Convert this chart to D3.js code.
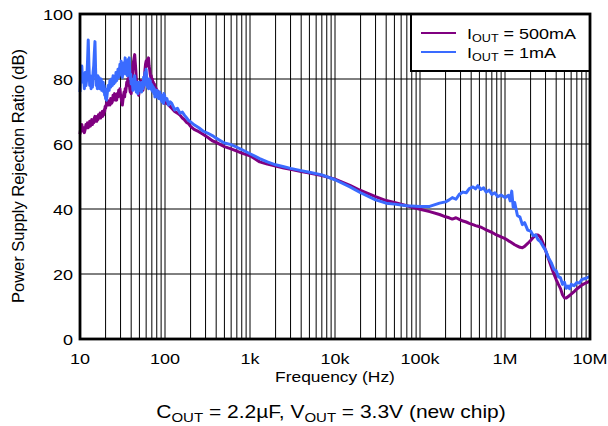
<!DOCTYPE html>
<head>
  <meta charset="utf-8">
  <script src="https://d3js.org/d3.v7.min.js"></script>
  <style type="text/css">
    body { margin: 0; background: #fff; }
    * { font-family: "Liberation Sans", Arial, sans-serif; }
  </style>
</head>
<body>
<div id="my_dataviz"></div>
<script>

// frequency points (Hz), shared by both curves
var freq = [
  10,10.25,10.5,10.75,11,11.25,11.5,11.75,12,12.25,12.5,12.75,13,13.25,13.5,13.75,14,14.25,14.5,14.75,
  15,15.25,15.5,15.75,16,16.25,16.5,16.75,17,17.25,17.5,17.75,18,18.25,18.5,18.75,19,19.25,19.5,19.75,20,
  20.5,21,21.5,22,22.5,23,23.5,24,24.5,25,25.5,26,26.5,27,27.5,28,28.5,29,29.5,30,
  30.5,31,31.5,32,32.5,33,33.5,34,34.5,35,35.5,36,36.5,37,37.5,38,38.5,39,39.5,40,
  41,42,43,44,45,46,47,48,49,50,51,52,53,54,55,56,57,58,59,60,
  61,62,63,64,65,66,67,68,69,70,71,72,73,74,75,76,77,78,79,80,
  81,82,83,84,85,86,87,88,89,90,91,92,93,94,95,96,97,98,99,100,
  105,110,115,120,
  130,140,150,160,170,180,190,200,
  220,250,280,320,360,400,450,500,
  600,700,800,1000,
  1300,1600,2000,2500,3000,4000,5000,7000,
  1e4,1.5e4,2e4,3e4,4e4,5e4,7e4,1e5,
  1.3e5,1.7e5,
  2e5,2.2e5,2.4e5,2.65e5,2.9e5,3.2e5,3.5e5,3.8e5,4.2e5,4.5e5,4.8e5,5.2e5,5.6e5,6e5,6.5e5,7e5,7.6e5,8.2e5,9e5,
  1e6,1.1e6,1.15e6,1.2e6,1.25e6,1.3e6,1.4e6,1.5e6,1.6e6,1.7e6,1.85e6,2e6,2.15e6,2.3e6,2.45e6,2.6e6,2.8e6,
  3e6,3.25e6,3.5e6,3.75e6,4e6,4.25e6,4.5e6,4.75e6,5e6,5.25e6,5.5e6,5.75e6,6e6,6.5e6,7e6,7.5e6,8e6,9e6,1e7];

// PSRR (dB), IOUT = 500mA
var psrr500mA = [
  63,65.5,66,64,65,63.5,64.5,66,65,66.5,65,66,67,65.5,66.5,67.5,66,67.5,66.5,68,
  68.5,67,68,67,68.5,67.5,69,68,68.5,69.5,68,69,68.5,70,68.5,69.5,69,70.5,70,71.5,71,
  72.5,73.5,72,73,72,74,72.5,73,75,74,75.5,73.5,74.5,73.5,75.5,74.5,76.5,75.5,77,75,
  74,73,72,73.5,75,76,74.5,77,76,77.5,79,78,80,78.5,80.5,79,77,76,77.5,75.5,
  79,84.5,86,87.5,84,80,78.5,76,75,76.5,78,79.5,77.5,78.5,76.5,78,80,82.5,84.5,85.5,
  84,86,85,86.5,84,83,81.5,80.5,81,79,80,78.5,79,77.5,78.5,77,77.5,76.5,77,75.5,
  76.5,75,75.5,74.5,76,75,75.5,74,75,74,74.5,73.5,74.5,73,74,73,73.5,72.5,73.5,73,
  72.5,72,71.5,71,
  70,69.5,68.9,68,67.4,66.6,66.2,65.4,
  64.5,63.8,63,62,61,60.5,59.8,59.2,
  58.5,57.8,57.2,56.4,
  54.5,53.8,53.2,52.6,52.2,51.5,51.1,50.3,
  49.2,47.3,45.7,43.8,42.6,42,41,39.9,
  39.2,38.3,
  37.6,37.3,36.9,37.3,36.8,36.3,36,35.6,35.2,34.9,34.7,34.4,34,33.6,33.2,32.8,32.3,31.9,31.4,
  30.9,30.2,29.9,29.6,29.3,29,28.6,28.2,28.1,28.5,29.4,30.3,31.3,32,32,31.4,29.5,
  27.2,24.7,22.2,20.1,18.3,16.8,15.5,13.6,12.7,12.6,13,13.4,13.8,14.6,15.4,16,16.6,17.3,17.8];

// PSRR (dB), IOUT = 1mA
var psrr1mA = [
  76,83,84,79,81,77,82,78,80,85,92,84,78,81,77,80,77.5,82,84,88,
  91.5,83,78,80,77,81,78.5,80.5,77,79.5,78,80,76.5,78.5,77,79,76,78,75,77,74,
  73.5,76,78,76.5,79.5,77.5,80,78,81,78.5,80.5,79,82,79.5,81,83,80.5,82,84.5,81.5,
  85.5,82,80.5,83,81.5,85,82.5,86.5,83,81.5,84,81,84.5,86,82,86.5,82,80,81.5,78.5,
  80,76.5,78.5,81,78,76,79,75.5,78,79,76.5,78,76,79,77,80.5,78,82,79,83,
  80,77.5,79.5,77,80,78,79.5,77,78.5,76.5,78,76,77.5,75.5,77,74.5,76.5,75,76,74.5,
  76.5,75,76,74,75.5,74.5,76,74,75,73.5,75,73,74.5,73,74,72.5,75.5,74,75,73.5,
  74,72,73,72.5,
  70.5,71,69.5,69.8,68.8,68,67.2,66.8,
  65.9,65,64,63.3,62.6,61.8,61,60.3,
  59.8,59,58.3,57,
  55.5,54.5,53.6,53,52.5,51.8,51.3,50.5,
  49,46.8,45,42.8,41.8,41.5,41,40.8,
  40.8,41.8,
  42.2,42.8,43.5,43,44.5,45.2,45,46.3,46.8,46.2,47.2,46,46.5,45.2,45.8,44.5,45,43.8,44.3,
  43.5,44.2,42.5,45.5,40.5,42,38,37.5,35.2,35.8,33.5,33.2,31.8,32,30.5,30,28.5,
  27.3,25,23.5,21.5,21,19.2,18.8,16.8,17.5,15.6,16.3,15.5,16.8,16.4,17.4,17.2,18.3,18.7,19.3];

// ticks
var xTickVals = [10, 100, 1e3, 1e4, 1e5, 1e6, 1e7];
var xTickLabels = ["10", "100", "1k", "10k", "100k", "1M", "10M"];
var yTickVals = [0, 20, 40, 60, 80, 100];

var seriesNames = ["500mA", "1mA"];
var seriesColors = ["#800080", "#3a6bff"];

var W = 608, H = 426;
var margin = {top: 14, right: 18, bottom: 87, left: 80},
    width = W - margin.left - margin.right,
    height = H - margin.top - margin.bottom;

var svg = d3.select("#my_dataviz")
  .append("svg")
    .attr("width", W)
    .attr("height", H);

var x = d3.scaleLog()
  .domain([10, 1e7])
  .range([margin.left, margin.left + width]);

var y = d3.scaleLinear()
  .domain([0, 100])
  .range([margin.top + height, margin.top]);

// grid
var grid = svg.append("g");
grid.selectAll("vline")
  .data(x.ticks())
  .enter()
  .append("line")
    .attr("x1", function(d) { return x(d); })
    .attr("x2", function(d) { return x(d); })
    .attr("y1", y(0))
    .attr("y2", y(100))
    .attr("stroke", "#000")
    .attr("stroke-width", 1);
grid.selectAll("hline")
  .data(yTickVals)
  .enter()
  .append("line")
    .attr("x1", x(10))
    .attr("x2", x(1e7))
    .attr("y1", function(d) { return y(d); })
    .attr("y2", function(d) { return y(d); })
    .attr("stroke", "#000")
    .attr("stroke-width", 1);

// curves
var line = d3.line()
  .x(function(d) { return x(d[0]); })
  .y(function(d) { return y(d[1]); });

[psrr500mA, psrr1mA].forEach(function(vals, i) {
  svg.append("path")
    .datum(freq.map(function(f, j) { return [f, vals[j]]; }))
    .attr("fill", "none")
    .attr("stroke", seriesColors[i])
    .attr("stroke-width", 3)
    .attr("stroke-linejoin", "round")
    .attr("d", line);
});

// legend
var lg = svg.append("g");
lg.append("rect")
  .attr("x", 411).attr("y", margin.top)
  .attr("width", x(1e7) - 411).attr("height", 57)
  .attr("fill", "#fff")
  .attr("stroke", "#000")
  .attr("stroke-width", 2);

seriesNames.forEach(function(name, i) {
  var ly = 33 + i * 19;
  lg.append("line")
    .attr("x1", 421).attr("x2", 456)
    .attr("y1", ly).attr("y2", ly)
    .attr("stroke", seriesColors[i])
    .attr("stroke-width", 2.2);
  var t = lg.append("g")
    .attr("transform", "translate(467," + (ly + 6) + ") scale(1.2,1)")
    .append("text")
    .style("font-size", "15px");
  t.append("tspan").text("I");
  t.append("tspan").attr("dy", 3).style("font-size", "10.5px").text("OUT");
  t.append("tspan").attr("dy", -3).text(" = " + name);
});

// frame
svg.append("rect")
  .attr("x", x(10)).attr("y", y(100))
  .attr("width", x(1e7) - x(10)).attr("height", y(0) - y(100))
  .attr("fill", "none")
  .attr("stroke", "#000")
  .attr("stroke-width", 2.8);

// tick labels (text is a bit wide in the original, so stretch 1.2 horizontally)
xTickVals.forEach(function(v, i) {
  svg.append("g")
    .attr("transform", "translate(" + x(v) + ",364) scale(1.2,1)")
    .append("text")
    .attr("text-anchor", "middle")
    .style("font-size", "15px")
    .text(xTickLabels[i]);
});
yTickVals.forEach(function(v) {
  svg.append("g")
    .attr("transform", "translate(73," + (y(v) + 5.5) + ") scale(1.2,1)")
    .append("text")
    .attr("text-anchor", "end")
    .style("font-size", "15px")
    .text(v);
});

// axis titles
svg.append("g")
  .attr("transform", "translate(335,382) scale(1.2,1)")
  .append("text")
  .attr("text-anchor", "middle")
  .style("font-size", "14.5px")
  .text("Frequency (Hz)");

svg.append("g")
  .attr("transform", "translate(24,176) rotate(-90)")
  .append("text")
  .attr("text-anchor", "middle")
  .style("font-size", "16.5px")
  .text("Power Supply Rejection Ratio (dB)");

// caption
var cap = svg.append("g")
  .attr("transform", "translate(331,418) scale(1.2,1)")
  .append("text")
  .attr("text-anchor", "middle")
  .style("font-size", "17.5px");
cap.append("tspan").text("C");
cap.append("tspan").attr("dy", 3.5).style("font-size", "12.5px").text("OUT");
cap.append("tspan").attr("dy", -3.5).text(" = 2.2\u00b5F, V");
cap.append("tspan").attr("dy", 3.5).style("font-size", "12.5px").text("OUT");
cap.append("tspan").attr("dy", -3.5).text(" = 3.3V (new chip)");

</script>
</body>
</html>
